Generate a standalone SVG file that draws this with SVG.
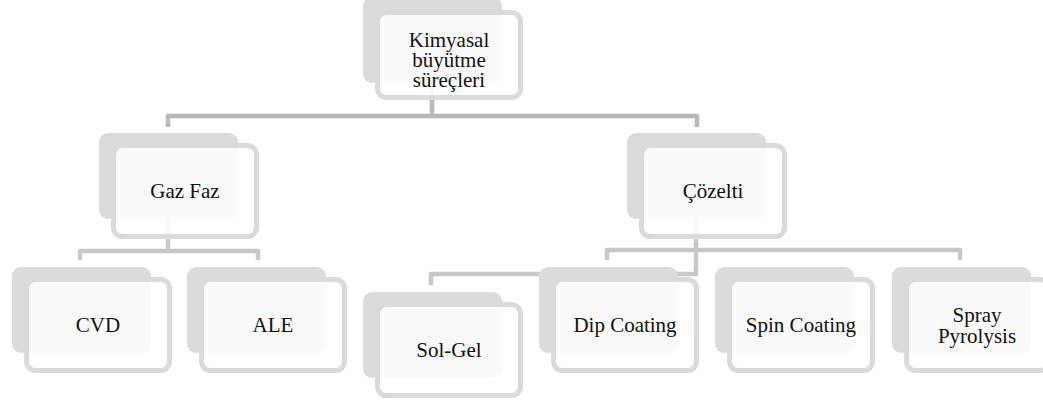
<svg xmlns="http://www.w3.org/2000/svg" width="1043" height="403" viewBox="0 0 1043 403">
<style>
.bk{fill:#dbdbdb}
.fr{fill:#ffffff;fill-opacity:0.86;stroke:#dadada;stroke-width:5}
.c1{fill:none;stroke:#b8b8b8;stroke-width:4.5;stroke-linejoin:round}
.c2{fill:none;stroke:#c8c8c8;stroke-width:4.5;stroke-linejoin:round}
text{font-family:'Liberation Serif',Tinos,'DejaVu Serif',serif;font-size:21px;fill:#111;text-anchor:middle}
</style>
<rect width="1043" height="403" fill="#ffffff"/>
<g id="connectors">
<path class="c1" d="M432,83 V116"/>
<path class="c1" d="M168,127 V116 H697 V127"/>
<path class="c2" d="M168,219 V251"/>
<path class="c2" d="M80,260 V251 H258 V260"/>
<path class="c2" d="M607,260 V250 H960 V260"/>
<path class="c2" d="M696,219 V274 H431 V285"/>
</g>
<g id="n-top">
<rect class="bk" x="363" y="-3" width="139" height="86" rx="9"/>
<rect class="fr" x="377.5" y="12.5" width="143" height="85" rx="9"/>
<text x="449" y="47" font-family="Liberation Serif, serif">Kimyasal</text>
<text x="449" y="67" font-family="Liberation Serif, serif">büyütme</text>
<text x="449" y="87" font-family="Liberation Serif, serif">süreçleri</text>
</g>
<g id="n-gaz">
<rect class="bk" x="99" y="133" width="139" height="86" rx="9"/>
<rect class="fr" x="113.5" y="145.5" width="143" height="91" rx="9"/>
<text x="185" y="198" font-family="Liberation Serif, serif">Gaz Faz</text>
</g>
<g id="n-cozelti">
<rect class="bk" x="627" y="133" width="139" height="86" rx="9"/>
<rect class="fr" x="641.5" y="145.5" width="143" height="91" rx="9"/>
<text x="713" y="198" font-family="Liberation Serif, serif">Çözelti</text>
</g>
<g id="n-cvd">
<rect class="bk" x="12" y="267" width="139" height="86" rx="9"/>
<rect class="fr" x="26.5" y="279.5" width="143" height="91" rx="9"/>
<text x="98" y="332" font-family="Liberation Serif, serif">CVD</text>
</g>
<g id="n-ale">
<rect class="bk" x="187" y="267" width="139" height="86" rx="9"/>
<rect class="fr" x="201.5" y="279.5" width="143" height="91" rx="9"/>
<text x="273" y="332" font-family="Liberation Serif, serif">ALE</text>
</g>
<g id="n-solgel">
<rect class="bk" x="363" y="292" width="139" height="86" rx="9"/>
<rect class="fr" x="377.5" y="304.5" width="143" height="91" rx="9"/>
<text x="449" y="357" font-family="Liberation Serif, serif">Sol-Gel</text>
</g>
<g id="n-dip">
<rect class="bk" x="539" y="267" width="139" height="86" rx="9"/>
<rect class="fr" x="553.5" y="279.5" width="143" height="91" rx="9"/>
<text x="625" y="332" font-family="Liberation Serif, serif">Dip Coating</text>
</g>
<g id="n-spin">
<rect class="bk" x="715" y="267" width="139" height="86" rx="9"/>
<rect class="fr" x="729.5" y="279.5" width="143" height="91" rx="9"/>
<text x="801" y="332" font-family="Liberation Serif, serif">Spin Coating</text>
</g>
<g id="n-spray">
<rect class="bk" x="892" y="267" width="139" height="86" rx="9"/>
<rect class="fr" x="906.5" y="279.5" width="143" height="91" rx="9"/>
<text x="977" y="322" font-family="Liberation Serif, serif">Spray</text>
<text x="977" y="343" font-family="Liberation Serif, serif">Pyrolysis</text>
</g>
</svg>
